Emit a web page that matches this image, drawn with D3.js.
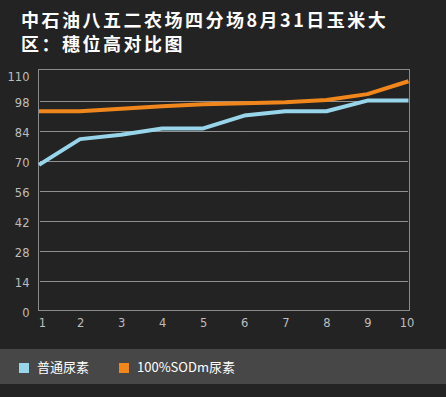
<!DOCTYPE html>
<html>
<head>
<meta charset="utf-8">
<script src="https://cdn.jsdelivr.net/npm/d3@7"></script>
<style>
  body { margin: 0; background: #232323; }
  svg { display: block; }
</style>
</head>
<body>
<svg width="446" height="397"></svg>
<script>
// Chart data
const titleLines = ['中石油八五二农场四分场8月31日玉米大', '区：穗位高对比图'];
const categories = [1, 2, 3, 4, 5, 6, 7, 8, 9, 10];
const yTicks = [0, 14, 28, 42, 56, 70, 84, 98, 110];
const seriesNames = ['普通尿素', '100%SODm尿素'];
const normalUrea = [68, 80, 82, 85, 85, 91, 93, 93, 98, 98];
const sodUrea = [93, 93, 94.2, 95.3, 96.3, 96.8, 97.2, 98.3, 101, 107];

const colors = ['#98d5ea', '#f0861c'];

const svg = d3.select('svg');
const width = +svg.attr('width');
const height = +svg.attr('height');

svg.append('rect')
  .attr('width', width)
  .attr('height', height)
  .attr('fill', '#232323');

// Title, two lines as in the original
svg.append('g')
  .selectAll('text')
  .data(titleLines)
  .enter()
  .append('text')
    .attr('x', 21)
    .attr('y', (d, i) => 27 + i * 24)
    .attr('fill', '#ffffff')
    .attr('font-family', '"Noto Sans CJK SC", sans-serif')
    .attr('font-weight', 'bold')
    .attr('font-size', 18)
    .attr('letter-spacing', 2.5)
    .text((d) => d);

// Plot area
const plot = {left: 38.5, right: 409.5, top: 69.5, bottom: 310.5};

const x = d3.scaleLinear()
  .domain([1, 10])
  .range([plot.left + 0.5, plot.right - 1]);

const y = d3.scaleLinear()
  .domain([0, 112.5])
  .range([plot.bottom, plot.top]);

// Dotted grid lines (none at the top tick)
svg.append('g')
  .selectAll('line')
  .data(yTicks.filter((t) => t > 0 && t < 110))
  .enter()
  .append('line')
    .attr('x1', plot.left + 2)
    .attr('x2', plot.right - 1)
    .attr('y1', (d) => Math.round(y(d)) + 0.5)
    .attr('y2', (d) => Math.round(y(d)) + 0.5)
    .attr('stroke', '#ffffff')
    .attr('stroke-width', 1)
    .attr('stroke-dasharray', '1,1');

// Frame
svg.append('rect')
  .attr('x', plot.left)
  .attr('y', plot.top)
  .attr('width', plot.right - plot.left)
  .attr('height', plot.bottom - plot.top)
  .attr('fill', 'none')
  .attr('stroke', '#8a8a8a')
  .attr('stroke-width', 1);

// Y axis
const yAxis = d3.axisLeft(y)
  .tickValues(yTicks)
  .tickSize(0)
  .tickPadding(9);

svg.append('g')
  .attr('transform', `translate(${plot.left}, 2)`)
  .call(yAxis)
  .call((g) => g.select('.domain').remove())
  .call((g) => g.selectAll('text')
    .attr('fill', '#bdbdbd')
    .attr('font-family', '"DejaVu Sans", sans-serif')
    .attr('font-size', 11.5));

// X axis
const xAxis = d3.axisBottom(x)
  .tickValues(categories)
  .tickFormat(d3.format('d'))
  .tickSize(0)
  .tickPadding(8);

svg.append('g')
  .attr('transform', `translate(0, ${plot.bottom})`)
  .call(xAxis)
  .call((g) => g.select('.domain').remove())
  .call((g) => g.selectAll('text')
    .attr('fill', '#bdbdbd')
    .attr('font-family', '"DejaVu Sans", sans-serif')
    .attr('font-size', 11.5))
  .call((g) => g.selectAll('.tick')
    .filter((d) => d === 1)
    .select('text')
    .attr('dx', 3))
  .call((g) => g.selectAll('.tick')
    .filter((d) => d === 10)
    .select('text')
    .attr('dx', -2));

// Series lines
const line = d3.line()
  .x((d, i) => x(categories[i]))
  .y((d) => y(d));

svg.append('g')
  .selectAll('path')
  .data([normalUrea, sodUrea])
  .enter()
  .append('path')
    .attr('d', line)
    .attr('fill', 'none')
    .attr('stroke', (d, i) => colors[i])
    .attr('stroke-width', 4)
    .attr('stroke-linejoin', 'round');

// Legend band
svg.append('rect')
  .attr('x', 0)
  .attr('y', 349)
  .attr('width', width)
  .attr('height', 35)
  .attr('fill', '#474747');

const legend = svg.append('g')
  .selectAll('g')
  .data(seriesNames)
  .enter()
  .append('g')
    .attr('transform', (d, i) => `translate(${19 + i * 100}, 363)`);

legend.append('rect')
  .attr('width', 10)
  .attr('height', 10)
  .attr('fill', (d, i) => colors[i]);

legend.append('text')
  .attr('x', 18)
  .attr('y', 9)
  .attr('fill', '#ffffff')
  .attr('font-family', '"Noto Sans CJK SC", sans-serif')
  .attr('font-size', 13)
  .text((d) => d);
</script>
</body>
</html>
